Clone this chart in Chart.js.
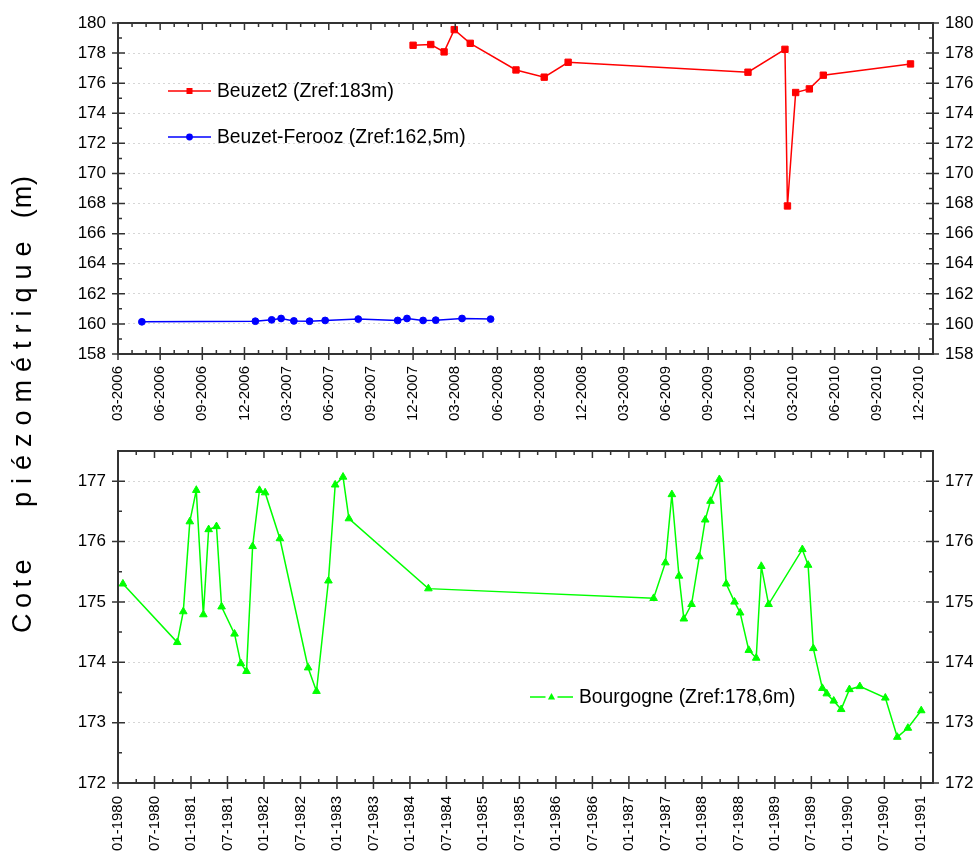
<!DOCTYPE html>
<html>
<head>
<meta charset="utf-8">
<script src="https://cdn.jsdelivr.net/npm/chart.js@4.4.1/dist/chart.umd.min.js"></script>
<style>
    html, body { margin: 0; padding: 0; background: #fff; }
    #wrap { position: relative; width: 976px; height: 852px; overflow: hidden; }
    #chartTop { position: absolute; left: 0; top: 0; }
    #chartBottom { position: absolute; left: 0; top: 428px; }
    #yTitle {
        position: absolute; left: 9px; top: 633px;
        transform-origin: 0 0; transform: rotate(-90deg);
        font: 27px "Liberation Sans", Arial, sans-serif;
        line-height: 27px; white-space: pre; color: #000;
    }
    #yTitle span { display: inline-block; }
</style>
</head>
<body>
<div id="wrap">
    <canvas id="chartTop" width="976" height="428"></canvas>
    <canvas id="chartBottom" width="976" height="424"></canvas>
    <div id="yTitle"><span style="letter-spacing:5.5px">Cote</span><span style="letter-spacing:8px;margin-left:47px">piézométrique</span><span style="letter-spacing:1px;margin-left:15px">(m)</span></div>
</div>
<script>
// --- Données ---
const beuzet2Dates = ['2007-12-01', '2008-01-09', '2008-02-07', '2008-02-28', '2008-04-03', '2008-07-11',
    '2008-09-11', '2008-11-02', '2009-11-26', '2010-02-14', '2010-02-19', '2010-03-08', '2010-04-07',
    '2010-05-07', '2010-11-13'];
const beuzet2Levels = [178.52, 178.57, 178.08, 179.56, 178.65, 176.88, 176.40, 177.39, 176.73, 178.25,
    167.84, 175.38, 175.62, 176.53, 177.28];

const feroozDates = ['2006-04-22', '2006-12-25', '2007-01-30', '2007-02-18', '2007-03-17', '2007-04-20',
    '2007-05-24', '2007-08-04', '2007-10-29', '2007-11-18', '2007-12-23', '2008-01-20', '2008-03-16',
    '2008-05-17'];
const feroozLevels = [160.14, 160.18, 160.27, 160.36, 160.20, 160.18, 160.23, 160.32, 160.23, 160.36,
    160.23, 160.25, 160.36, 160.32];

const bourgogneDates = ['1980-01-26', '1980-10-24', '1980-11-23', '1980-12-26', '1981-01-28', '1981-03-02',
    '1981-03-29', '1981-05-07', '1981-06-02', '1981-08-06', '1981-09-07', '1981-10-05', '1981-11-05',
    '1981-12-09', '1982-01-07', '1982-03-20', '1982-08-09', '1982-09-20', '1982-11-19', '1982-12-23',
    '1983-02-01', '1983-02-28', '1984-04-02', '1987-05-03', '1987-07-01', '1987-08-03', '1987-09-08',
    '1987-10-02', '1987-11-10', '1987-12-19', '1988-01-18', '1988-02-13', '1988-03-28', '1988-05-01',
    '1988-06-12', '1988-07-10', '1988-08-23', '1988-09-29', '1988-10-25', '1988-11-30', '1989-05-17',
    '1989-06-15', '1989-07-11', '1989-08-26', '1989-09-17', '1989-10-22', '1989-11-28', '1990-01-09',
    '1990-02-28', '1990-07-06', '1990-09-05', '1990-10-28', '1991-01-03'];
const bourgogneLevels = [175.30, 174.33, 174.84, 176.33, 176.85, 174.79, 176.20, 176.25, 174.92, 174.47,
    173.98, 173.85, 175.92, 176.85, 176.81, 176.05, 173.91, 173.52, 175.35, 176.94, 177.07, 176.38,
    175.22, 175.06, 175.65, 176.78, 175.43, 174.72, 174.96, 175.75, 176.36, 176.67, 177.03, 175.30,
    175.00, 174.82, 174.20, 174.07, 175.59, 174.96, 175.87, 175.61, 174.23, 173.57, 173.48, 173.36,
    173.22, 173.55, 173.60, 173.41, 172.76, 172.91, 173.20];

const topTickLabels = ['03-2006', '06-2006', '09-2006', '12-2006', '03-2007', '06-2007', '09-2007',
    '12-2007', '03-2008', '06-2008', '09-2008', '12-2008', '03-2009', '06-2009', '09-2009', '12-2009',
    '03-2010', '06-2010', '09-2010', '12-2010'];
const bottomTickLabels = ['01-1980', '07-1980', '01-1981', '07-1981', '01-1982', '07-1982', '01-1983',
    '07-1983', '01-1984', '07-1984', '01-1985', '07-1985', '01-1986', '07-1986', '01-1987', '07-1987',
    '01-1988', '07-1988', '01-1989', '07-1989', '01-1990', '07-1990', '01-1991'];
const topYTicks = [158, 160, 162, 164, 166, 168, 170, 172, 174, 176, 178, 180];
const bottomYTicks = [172, 173, 174, 175, 176, 177];

const FONT = '"Liberation Sans", Arial, sans-serif';

// mois écoulés depuis une date de base (axe x linéaire en mois)
function toMonth(y, m, d, base) {
    const dim = new Date(y, m, 0).getDate();
    return (y - base.y) * 12 + (m - base.m) + (d - 1) / dim;
}
function dateToMonth(str, base) {
    const [y, m, d] = str.split('-').map(Number);
    return toMonth(y, m, d, base);
}
function labelToMonth(lbl, base) {
    const [m, y] = lbl.split('-').map(Number);
    return toMonth(y, m, 1, base);
}
function points(dates, levels, base) {
    return dates.map((d, i) => ({ x: dateToMonth(d, base), y: levels[i] }));
}

// --- Cadre + graduations majeures/mineures façon Origin ---
const frameTicks = {
    id: 'frameTicks',
    afterDraw(chart, args, opts) {
        const { ctx, chartArea: a, scales } = chart;
        const xs = scales.x, ys = scales.y;
        const xMaj = xs.ticks.map(t => t.value);
        const yMaj = ys.ticks.map(t => t.value);
        const isMaj = (arr, v) => arr.some(m => Math.abs(m - v) < 1e-6);
        ctx.save();
        ctx.strokeStyle = '#333';
        ctx.lineWidth = 1.5;
        ctx.beginPath();
        xMaj.forEach(v => {
            const p = xs.getPixelForValue(v);
            ctx.moveTo(p, a.bottom + 6); ctx.lineTo(p, a.bottom - 7);
            ctx.moveTo(p, a.top); ctx.lineTo(p, a.top + 7);
        });
        for (let v = xs.min; v <= xs.max + 1e-6; v += opts.xMinor) {
            if (isMaj(xMaj, v)) continue;
            const p = xs.getPixelForValue(v);
            ctx.moveTo(p, a.bottom); ctx.lineTo(p, a.bottom - 4);
            ctx.moveTo(p, a.top); ctx.lineTo(p, a.top + 4);
        }
        yMaj.forEach(v => {
            const p = ys.getPixelForValue(v);
            ctx.moveTo(a.left - 6, p); ctx.lineTo(a.left + 7, p);
            ctx.moveTo(a.right - 7, p); ctx.lineTo(a.right + 6, p);
        });
        for (let v = ys.min; v <= ys.max + 1e-6; v += opts.yMinor) {
            if (isMaj(yMaj, v)) continue;
            const p = ys.getPixelForValue(v);
            ctx.moveTo(a.left, p); ctx.lineTo(a.left + 4, p);
            ctx.moveTo(a.right - 4, p); ctx.lineTo(a.right, p);
        }
        ctx.stroke();
        ctx.lineWidth = 2;
        ctx.strokeRect(a.left, a.top, a.right - a.left, a.bottom - a.top);
        ctx.restore();
    }
};

// --- Légende placée dans la zone du graphique ---
const inlineLegend = {
    id: 'inlineLegend',
    afterDraw(chart, args, opts) {
        const ctx = chart.ctx;
        opts.items.forEach(it => {
            const ds = chart.data.datasets[it.dataset];
            ctx.save();
            ctx.strokeStyle = ds.borderColor;
            ctx.lineWidth = ds.borderWidth;
            ctx.beginPath();
            const mid = it.x + it.len / 2;
            if (it.gap) {
                ctx.moveTo(it.x, it.y); ctx.lineTo(mid - it.gap, it.y);
                ctx.moveTo(mid + it.gap, it.y); ctx.lineTo(it.x + it.len, it.y);
            } else {
                ctx.moveTo(it.x, it.y); ctx.lineTo(it.x + it.len, it.y);
            }
            ctx.stroke();
            ctx.fillStyle = ds.pointBackgroundColor;
            const r = it.size;
            ctx.beginPath();
            if (ds.pointStyle === 'rect') {
                ctx.rect(mid - r, it.y - r, 2 * r, 2 * r);
            } else if (ds.pointStyle === 'triangle') {
                ctx.moveTo(mid, it.y - r);
                ctx.lineTo(mid + r * 0.9, it.y + r * 0.6);
                ctx.lineTo(mid - r * 0.9, it.y + r * 0.6);
                ctx.closePath();
            } else {
                ctx.arc(mid, it.y, r, 0, Math.PI * 2);
            }
            ctx.fill();
            ctx.fillStyle = '#000';
            ctx.font = it.font;
            ctx.textBaseline = 'middle';
            ctx.textAlign = 'left';
            ctx.fillText(ds.label, it.x + it.len + it.textGap, it.y + 1);
            ctx.restore();
        });
    }
};

function makeOptions(cfg) {
    const base = cfg.base;
    return {
        responsive: false,
        animation: false,
        layout: { padding: { top: cfg.padTop, left: 0, right: 0, bottom: 0 } },
        scales: {
            x: {
                type: 'linear',
                min: cfg.xMin, max: cfg.xMax,
                afterBuildTicks: s => { s.ticks = cfg.xLabels.map(l => ({ value: labelToMonth(l, base) })); },
                afterFit: s => { s.height = cfg.xHeight; },
                ticks: {
                    autoSkip: false, minRotation: 90, maxRotation: 90,
                    padding: cfg.xPad, color: '#000',
                    font: { family: FONT, size: 15 },
                    callback: (v, i) => cfg.xLabels[i]
                },
                grid: { display: false, drawTicks: false },
                border: { display: false }
            },
            y: {
                position: 'left',
                min: cfg.yMin, max: cfg.yMax,
                afterBuildTicks: s => { s.ticks = cfg.yTicks.map(v => ({ value: v })); },
                afterFit: s => { s.width = 118; },
                ticks: { padding: 12, color: '#000', font: { family: FONT, size: 17 } },
                grid: { color: '#d6d6d6', lineWidth: 1, drawTicks: false },
                border: { display: false, dash: [2, 3] }
            },
            y2: {
                position: 'right',
                min: cfg.yMin, max: cfg.yMax,
                afterBuildTicks: s => { s.ticks = cfg.yTicks.map(v => ({ value: v })); },
                afterFit: s => { s.width = 43; },
                ticks: { padding: 12, color: '#000', font: { family: FONT, size: 17 } },
                grid: { display: false, drawTicks: false },
                border: { display: false }
            }
        },
        plugins: {
            legend: { display: false },
            tooltip: { enabled: false },
            frameTicks: { xMinor: cfg.xMinor, yMinor: cfg.yMinor },
            inlineLegend: { items: cfg.legend }
        }
    };
}

const topBase = { y: 2006, m: 3 };
new Chart(document.getElementById('chartTop').getContext('2d'), {
    type: 'line',
    data: {
        datasets: [{
            label: 'Beuzet2 (Zref:183m)',
            data: points(beuzet2Dates, beuzet2Levels, topBase),
            borderColor: '#ff0000', backgroundColor: '#ff0000',
            pointBackgroundColor: '#ff0000', pointBorderColor: '#ff0000',
            pointStyle: 'rect', pointRadius: 4.5, pointBorderWidth: 1,
            borderWidth: 1.5, tension: 0
        }, {
            label: 'Beuzet-Ferooz (Zref:162,5m)',
            data: points(feroozDates, feroozLevels, topBase),
            borderColor: '#0000ff', backgroundColor: '#0000ff',
            pointBackgroundColor: '#0000ff', pointBorderColor: '#0000ff',
            pointStyle: 'circle', pointRadius: 3.4, pointBorderWidth: 1,
            borderWidth: 1.5, tension: 0
        }]
    },
    options: makeOptions({
        base: topBase, padTop: 23, xHeight: 74, xPad: 12,
        xMin: 0, xMax: 58, xLabels: topTickLabels, xMinor: 1,
        yMin: 158, yMax: 180, yTicks: topYTicks, yMinor: 1,
        legend: [
            { dataset: 0, x: 168, y: 91, len: 43, size: 3, textGap: 6, font: '19.3px ' + FONT },
            { dataset: 1, x: 168, y: 137, len: 43, size: 3.4, textGap: 6, font: '19.3px ' + FONT }
        ]
    }),
    plugins: [frameTicks, inlineLegend]
});

const bottomBase = { y: 1980, m: 1 };
new Chart(document.getElementById('chartBottom').getContext('2d'), {
    type: 'line',
    data: {
        datasets: [{
            label: 'Bourgogne (Zref:178,6m)',
            data: points(bourgogneDates, bourgogneLevels, bottomBase),
            borderColor: '#00ff00', backgroundColor: '#00ff00',
            pointBackgroundColor: '#00ff00', pointBorderColor: '#00ff00',
            pointStyle: 'triangle', pointRadius: 4.4, pointBorderWidth: 1,
            borderWidth: 1.5, tension: 0
        }]
    },
    options: makeOptions({
        base: bottomBase, padTop: 23, xHeight: 69, xPad: 13,
        xMin: 0, xMax: 134, xLabels: bottomTickLabels, xMinor: 3,
        yMin: 172, yMax: 177.5, yTicks: bottomYTicks, yMinor: 0.5,
        legend: [
            { dataset: 0, x: 530, y: 269, len: 43, size: 4, gap: 6, textGap: 6, font: '19.3px ' + FONT }
        ]
    }),
    plugins: [frameTicks, inlineLegend]
});
</script>
</body>
</html>
